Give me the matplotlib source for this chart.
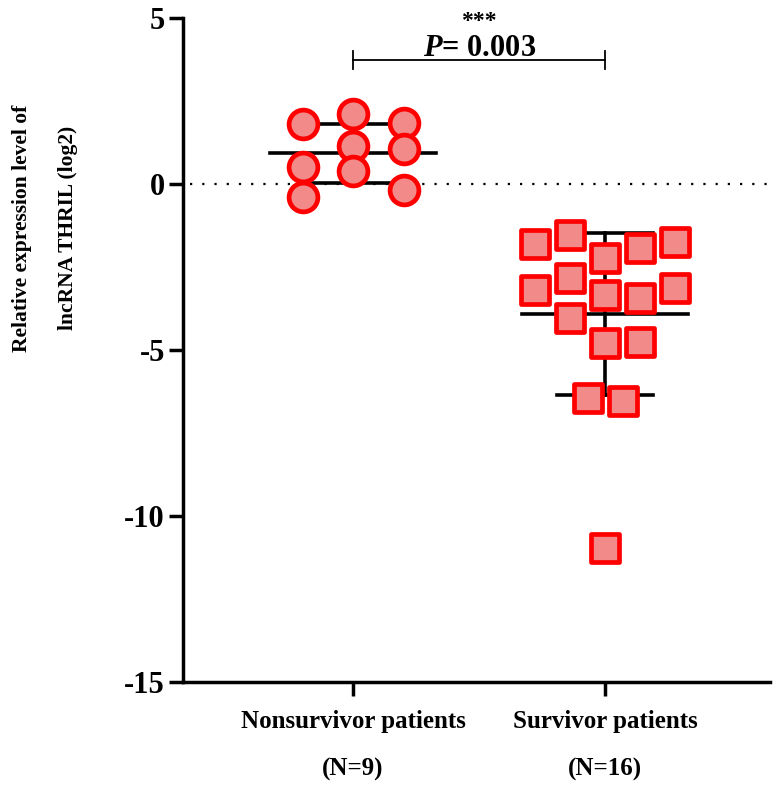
import numpy as np
import matplotlib
matplotlib.use("Agg")
import matplotlib.pyplot as plt

plt.rcParams['font.family'] = ['Liberation Serif', 'DejaVu Serif']
plt.rcParams['font.weight'] = 'bold'
plt.rcParams['mathtext.fontset'] = 'custom'
plt.rcParams['mathtext.it'] = 'Liberation Serif:italic:bold'
plt.rcParams['mathtext.rm'] = 'Liberation Serif:bold'

groups = ['Nonsurvivor patients\n(N=9)', 'Survivor patients\n(N=16)']

# values (log2 relative expression)
nonsurv = [1.81, 0.51, -0.39, 2.11, 1.14, 0.39, 1.84, 1.05, -0.18]
nonsurv_col = [-1, -1, -1, 0, 0, 0, 1, 1, 1]

surv = [-1.81, -3.19, -1.54, -2.83, -4.04, -2.23, -3.34, -4.79,
        -1.93, -3.43, -4.76, -1.75, -3.13, -6.45, -6.55, -10.96]
surv_col = [-2, -2, -1, -1, -1, 0, 0, 0, 1, 1, 1, 2, 2, -0.5, 0.5, 0]

p_text = '$P$= 0.003'
stars = '***'

red = '#ff0000'
fill = '#f28a8a'

fig = plt.figure(figsize=(7.75, 7.97), dpi=100)
ax = fig.add_axes([0.236, 0.1443, 0.758, 0.8331])

ax.axhline(0, xmin=0.012, color='black', lw=1.6, ls=(0, (1, 4.5)), zorder=1)

for i, (vals, cols, step, marker) in enumerate([(nonsurv, nonsurv_col, 0.2, 'o'),
                                                 (surv, surv_col, 0.139, 's')]):
    xpos = i + 1
    v = np.array(vals)
    m, sd = v.mean(), v.std(ddof=1)
    ax.plot([xpos - 0.33, xpos + 0.33], [m, m], color='black', lw=2.6, zorder=2)
    ax.plot([xpos, xpos], [m - sd, m + sd], color='black', lw=2.6, zorder=2)
    for yy in (m - sd, m + sd):
        ax.plot([xpos - 0.19, xpos + 0.19], [yy, yy], color='black', lw=2.6, zorder=2)
    x = xpos + np.array(cols) * step
    ax.scatter(x, v, s=430 if marker == 'o' else 390, marker=marker,
               facecolor=fill, edgecolor=red, linewidth=3.4, zorder=3)

# significance bracket
yb = 3.73
ax.plot([1, 2], [yb, yb], color='black', lw=1.3, clip_on=False)
for xb in (1, 2):
    ax.plot([xb, xb], [yb - 0.27, yb + 0.27], color='black', lw=1.3, clip_on=False)
ax.text(1.5, 3.87, p_text, ha='center', va='baseline', fontsize=22, fontweight='bold')
ax.text(1.5, 4.72, stars, ha='center', va='baseline', fontsize=17, fontweight='bold',
        clip_on=False)

ax.set_xlim(0.325, 2.655)
ax.set_ylim(-15, 5)
ax.set_yticks([5, 0, -5, -10, -15])
ax.set_yticklabels(['5', '0', '-5', '-10', '-15'])
ax.set_xticks([1, 2])
ax.set_xticklabels(groups, linespacing=2.4)
ax.tick_params(axis='y', labelsize=22, width=2.5, length=10, pad=3)
ax.tick_params(axis='x', labelsize=18, width=2.5, length=10, pad=10)

for s in ('top', 'right'):
    ax.spines[s].set_visible(False)
for s in ('left', 'bottom'):
    ax.spines[s].set_linewidth(2.5)

fig.text(45 / 775, 1 - 228 / 797, 'Relative expression level of\nlncRNA THRIL (log2)',
         rotation=90, ha='center', va='center', fontsize=15.5, fontweight='bold',
         linespacing=2.7, multialignment='center')

fig.savefig('out.png', dpi=100)
